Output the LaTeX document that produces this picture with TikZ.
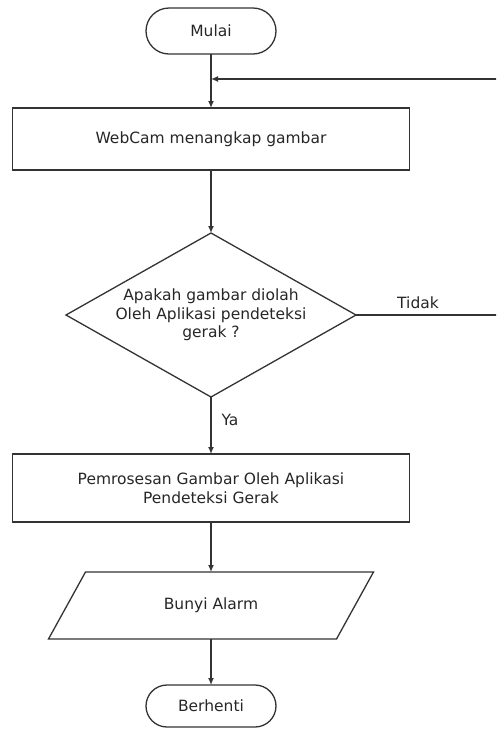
\documentclass[tikz,border=0pt]{standalone}
\usepackage{fontspec}
\setmainfont{DejaVu Sans}
\usetikzlibrary{shapes.geometric,arrows.meta}
\begin{document}
\begin{tikzpicture}[x=1pt,y=-1pt,
 every node/.style={font=\fontsize{15.5}{18.5}\selectfont, outer sep=0pt, text=black!85},
 line/.style={draw=black!80, line width=1.3pt},
 arr/.style={line, -{Latex[length=7pt,width=6pt]}},
 terminal/.style={line, rectangle, rounded corners=23pt, minimum width=130pt, minimum height=46pt, inner sep=0pt},
 process/.style={line, rectangle, minimum width=397pt, minimum height=62pt, align=center, inner sep=0pt},
 decision/.style={line, diamond, aspect=1.77, minimum width=290pt, minimum height=164pt, inner sep=0pt, align=center},
 iobox/.style={rectangle, minimum width=288pt, minimum height=67pt, inner sep=0pt},
 lbl/.style={inner sep=0pt}
 ]
\useasboundingbox (0,0) rectangle (496,729);
\clip (0,0) rectangle (496,729);

\node[terminal] (start) at (211,31) {Mulai};
\node[process] (cap) at (211,139) {WebCam menangkap gambar};
\node[decision] (dec) at (211,315) {Apakah gambar diolah\\Oleh Aplikasi pendeteksi\\gerak ?};
\node[process, minimum height=68pt] (proc) at (211,488) {Pemrosesan Gambar Oleh Aplikasi\\Pendeteksi Gerak};
\node[iobox] (alarm) at (211,605.5) {Bunyi Alarm};
\draw[line] ([xshift=18.5pt]alarm.north west) -- ([xshift=18.5pt]alarm.north east)
  -- ([xshift=-18.5pt]alarm.south east) -- ([xshift=-18.5pt]alarm.south west) -- cycle;
\node[terminal, minimum height=42pt, rounded corners=21pt] (stop) at (211,706) {Berhenti};

\coordinate (r1) at (503,315);
\coordinate (r2) at (503,79);
\coordinate (j) at (211,79);

\draw[arr] (start) -- (cap);
\draw[arr] (cap) -- (dec);
\draw[arr] (dec) -- (proc);
\draw[arr] (proc) -- (alarm);
\draw[arr] (alarm) -- (stop);
\draw[arr] (dec.east) -- (r1) -- (r2) -- (j);

\node[lbl] (tidak) at (418,303) {Tidak};
\node[lbl] (ya) at (230,420) {Ya};
\end{tikzpicture}
\end{document}
